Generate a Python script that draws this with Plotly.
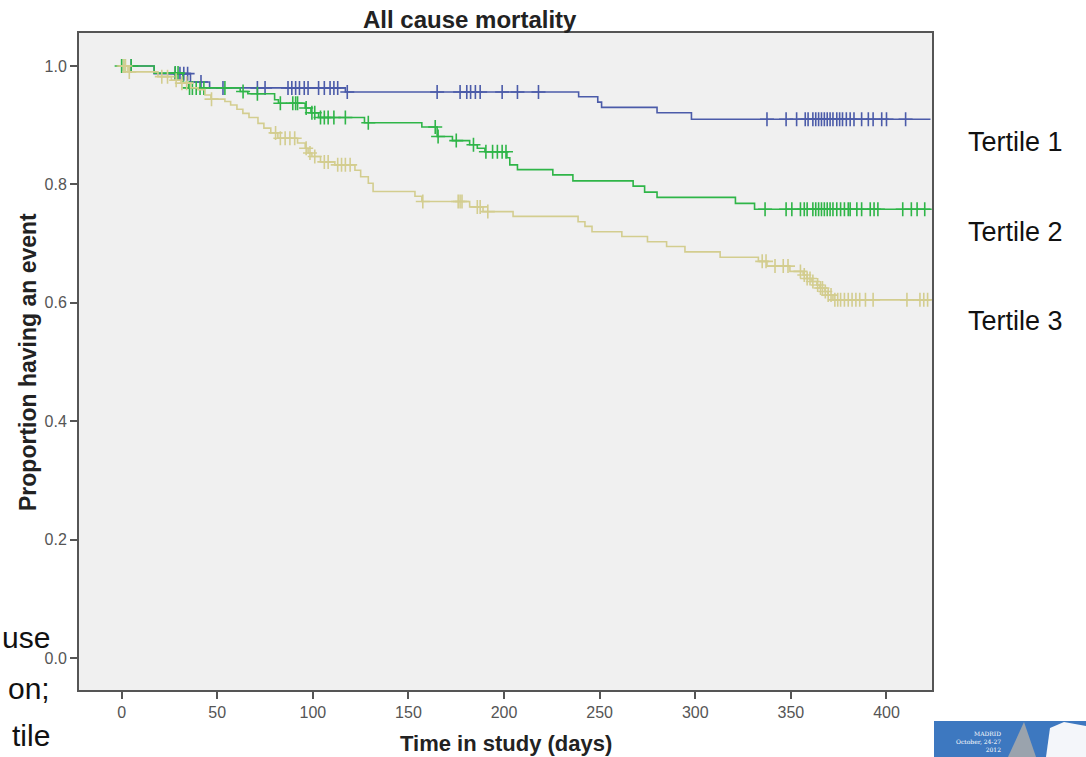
import plotly.graph_objects as go
import bisect

# ---- data ----
t1_times = [0, 17, 36, 46, 117, 239, 249, 251, 280, 298]
t1_surv = [1.0, 0.987, 0.973, 0.963, 0.956, 0.948, 0.939, 0.930, 0.921, 0.910]
t1_censor = [5, 28, 30.5, 32.5, 34.5, 41.5, 53, 71, 75, 87, 89, 91, 93, 95.5, 97.5,
             103, 106, 109, 111, 113, 118, 165, 177, 180.5, 182.5, 185, 187.5, 199,
             207, 218, 337.5, 347.5, 353, 357.5, 359, 361.5, 363, 364.5, 366, 367.5,
             369, 370.5, 372, 374, 375.5, 377, 379, 381, 383, 387, 390.5, 393, 397.5,
             400, 410]

t2_times = [0, 17, 32, 35, 62, 66, 80, 82, 96, 99, 103, 127, 157, 165, 173, 182, 186,
            190, 201.5, 203, 207, 225.5, 236, 267.5, 273.5, 280, 321, 331]
t2_surv = [1.0, 0.988, 0.972, 0.963, 0.957, 0.953, 0.943, 0.937, 0.929, 0.921, 0.913,
           0.904, 0.897, 0.881, 0.874, 0.867, 0.861, 0.855, 0.845, 0.833, 0.825, 0.816,
           0.806, 0.797, 0.787, 0.778, 0.768, 0.758]
t2_censor = [0, 1, 5, 28, 29.5, 35.5, 37, 39, 41, 43, 54, 63.5, 71, 83, 89.5, 91, 92,
             96.5, 99.5, 101, 104, 106, 108, 111, 117, 129, 164, 165.5, 175, 184, 190.5,
             194, 196.5, 199, 201, 336.5, 347.5, 350.5, 355, 357, 358.5, 361.5, 363,
             364.5, 366, 367.5, 369, 370.5, 372, 374, 376, 378, 380, 381, 384.5, 387,
             391.5, 393.5, 395.5, 408.5, 413, 416, 420]

t3_times = [0, 3.3, 19, 26, 31, 36, 40, 43.6, 46.7, 54, 57, 60.3, 63.4, 66.6, 71.3,
            74.4, 78, 81.7, 92, 96, 97.5, 99.5, 104, 111.5, 122, 125, 129, 131.5, 153.4,
            157, 182, 189, 204.7, 238.7, 242.3, 246, 261.6, 275, 285, 294.6, 313, 333,
            337.5, 349.5, 356.4, 358.4, 361, 363.6, 365.2, 367.8, 369.4, 372]
t3_surv = [1.0, 0.99, 0.982, 0.976, 0.971, 0.963, 0.960, 0.951, 0.944, 0.940, 0.934,
           0.927, 0.920, 0.913, 0.903, 0.895, 0.887, 0.878, 0.870, 0.861, 0.853, 0.847,
           0.838, 0.833, 0.824, 0.813, 0.802, 0.788, 0.780, 0.771, 0.762, 0.754, 0.746,
           0.737, 0.729, 0.720, 0.712, 0.703, 0.695, 0.686, 0.677, 0.670, 0.662, 0.653,
           0.647, 0.641, 0.636, 0.630, 0.625, 0.619, 0.613, 0.605]
t3_censor = [1, 2, 4, 21, 24, 28.5, 31.5, 34, 47, 80.5, 83, 85.5, 88, 90.5, 96.5, 98.5,
             101, 106, 108, 113, 115, 117, 119.5, 157.5, 176, 177, 178, 186, 187.5,
             191.5, 335, 337, 341.7, 346, 348.5, 355, 357, 358.5, 360, 361.5, 364, 365.5,
             366.5, 368, 369.5, 371, 373, 374.5, 376, 378, 380, 382, 384, 386, 389, 393,
             410.7, 417.5, 419.5, 421.5]

x_end = 423
series_names = ["Tertile 1", "Tertile 2", "Tertile 3"]
colors = ["#4b5ba9", "#2fb548", "#d3cd8f"]
xtick_vals = [0, 50, 100, 150, 200, 250, 300, 350, 400]
ytick_vals = [0.0, 0.2, 0.4, 0.6, 0.8, 1.0]
ytick_text = ["0.0", "0.2", "0.4", "0.6", "0.8", "1.0"]


def surv_at(times, surv, t):
    i = bisect.bisect_right(times, t) - 1
    return surv[max(i, 0)]


fig = go.Figure()
for times, surv, cens, name, col in [
    (t1_times, t1_surv, t1_censor, series_names[0], colors[0]),
    (t2_times, t2_surv, t2_censor, series_names[1], colors[1]),
    (t3_times, t3_surv, t3_censor, series_names[2], colors[2]),
]:
    fig.add_trace(go.Scatter(
        x=times + [x_end], y=surv + [surv[-1]], mode="lines",
        line=dict(color=col, width=1.6, shape="hv"), name=name, showlegend=False,
        hoverinfo="skip"))
    fig.add_trace(go.Scatter(
        x=cens, y=[surv_at(times, surv, c) for c in cens], mode="markers",
        marker=dict(symbol="cross-thin", size=10, line=dict(color=col, width=1.6)),
        showlegend=False, name=name + " censored"))

# plot area in pixels
L, R, T, B = 79, 932, 33, 690
W, H = 1086, 757


def px(x):
    return (x - L) / (R - L)


def py(y):
    return (B - y) / (B - T)


FONT = "Liberation Sans, Arial, sans-serif"
ann = []


def add_text(text, x, y, size, color="#222", xanchor="center", angle=0, family=FONT):
    ann.append(dict(text=text, x=px(x), y=py(y), xref="paper", yref="paper",
                    xanchor=xanchor, yanchor="middle", showarrow=False, textangle=angle,
                    font=dict(size=size, color=color, family=family)))


add_text("<b>All cause mortality</b>", 470, 20, 24)
add_text("<b>Time in study (days)</b>", 506, 744, 22)
add_text("<b>Proportion having an event</b>", 28, 362, 23, angle=-90)
for name, yy in zip(series_names, [142, 232, 321]):
    add_text(name, 966, yy, 27, color="#111", xanchor="left")
for txt, yy in zip(["use", "on;", "tile"], [637, 688, 736]):
    add_text(txt, 52, yy, 30, color="#111", xanchor="right")
ann.append(dict(text="MADRID<br>October, 24-27<br>2012", x=px(1003), y=py(741),
                xref="paper", yref="paper", xanchor="right", yanchor="middle",
                align="right", showarrow=False,
                font=dict(size=6, color="#ffffff", family="DejaVu Serif")))

shapes = [
    dict(type="rect", xref="paper", yref="paper", x0=px(934), x1=px(1086), y0=py(721),
         y1=py(757), fillcolor="#3d78c0", line=dict(width=0), layer="above"),
    dict(type="path", xref="paper", yref="paper",
         path="M %f %f L %f %f L %f %f Z" % (px(1008), py(757), px(1024), py(722),
                                            px(1036), py(757)),
         fillcolor="#9aa3ad", line=dict(width=0), layer="above"),
    dict(type="path", xref="paper", yref="paper",
         path="M %f %f L %f %f L %f %f L %f %f L %f %f Z" % (
             px(1046), py(757), px(1050), py(728), px(1064), py(722), px(1086), py(726),
             px(1086), py(757)),
         fillcolor="#f4f6fa", line=dict(width=0), layer="above"),
]

fig.update_layout(
    width=W, height=H,
    margin=dict(l=L, r=W - R, t=T, b=H - B, pad=0),
    paper_bgcolor="white", plot_bgcolor="#f0f0f0",
    annotations=ann, shapes=shapes,
    font=dict(family=FONT),
    xaxis=dict(range=[-22.3, 423.8], tickvals=xtick_vals, ticks="outside", ticklen=7,
               tickwidth=2, tickcolor="#555", showline=True, linewidth=2, linecolor="#555",
               mirror=True, showgrid=False, zeroline=False,
               tickfont=dict(size=16, color="#555", family=FONT)),
    yaxis=dict(range=[-0.054, 1.0557], tickvals=ytick_vals, ticktext=ytick_text,
               ticks="outside", ticklen=7, tickwidth=2, tickcolor="#555", showline=True,
               linewidth=2, linecolor="#555", mirror=True, showgrid=False, zeroline=False,
               tickfont=dict(size=16, color="#555", family=FONT)),
)

fig.write_html("out.html")
